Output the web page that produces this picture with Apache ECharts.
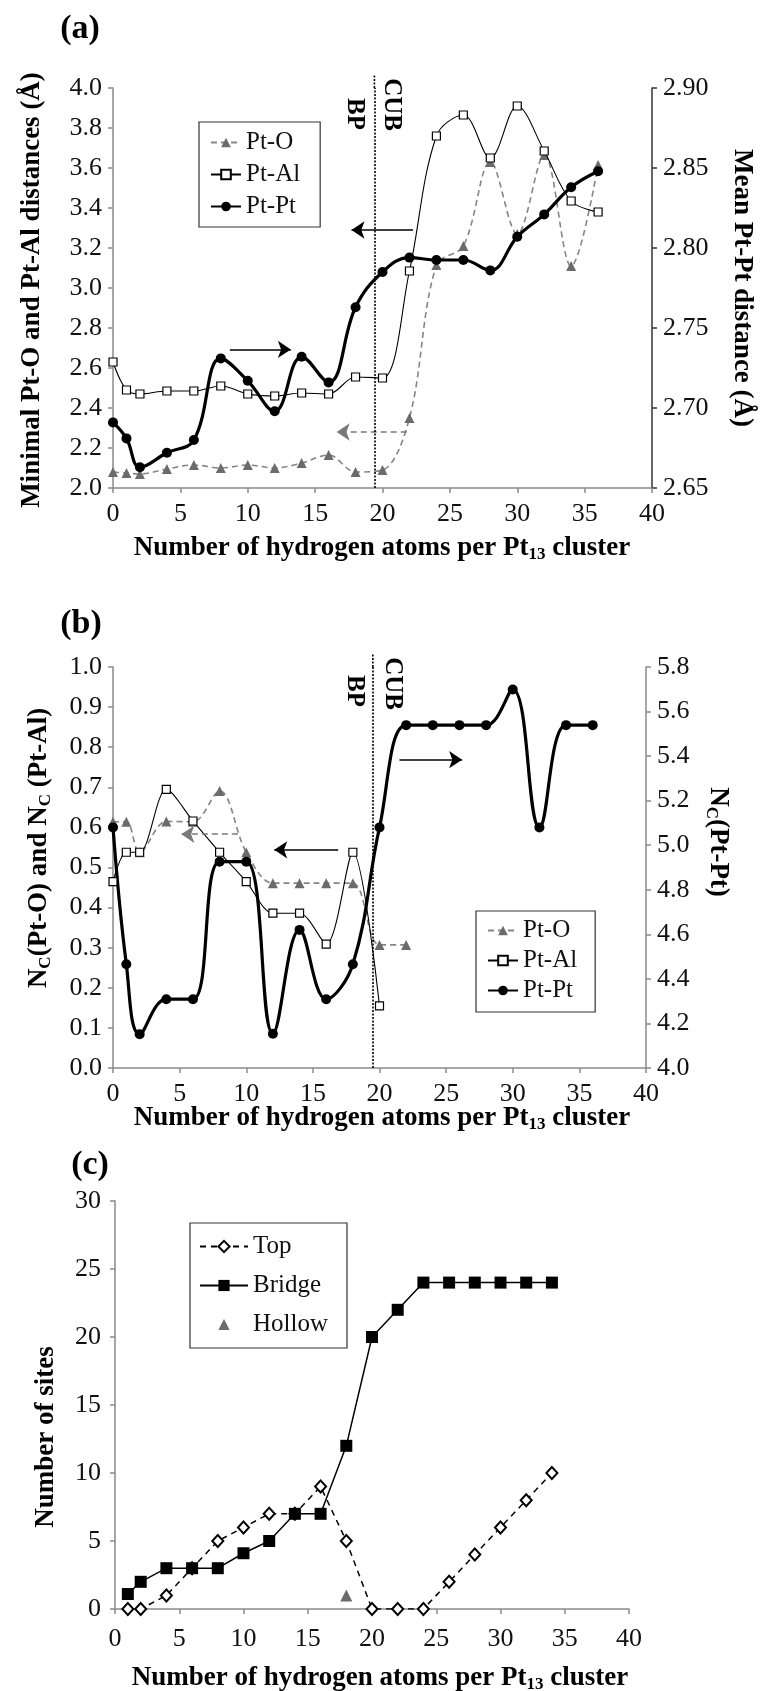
<!DOCTYPE html>
<html><head><meta charset="utf-8">
<script src="https://cdn.jsdelivr.net/npm/echarts@6/dist/echarts.min.js"></script>
<style>html,body{margin:0;padding:0;background:#fff}#c{width:760px;height:1691px}</style>
</head><body><div id="c"></div>
<script>
// ---------- data ----------
const xTicks = [0, 40, 5];
// panel (a)
const xA = [0,1,2,4,6,8,10,12,14,16,18,20,22,24,26,28,30,32,34,36];
const aPtO = [2.08,2.075,2.07,2.095,2.115,2.10,2.115,2.10,2.125,2.165,2.08,2.09,2.35,3.115,3.21,3.63,3.27,3.665,3.11,3.615];
const aPtAl = [2.63,2.49,2.47,2.485,2.485,2.51,2.47,2.46,2.475,2.47,2.555,2.55,3.085,3.76,3.865,3.65,3.91,3.685,3.435,3.38];
const aPtPt = [2.691,2.681,2.663,2.672,2.680,2.731,2.717,2.698,2.732,2.716,2.763,2.785,2.794,2.7925,2.7925,2.786,2.807,2.821,2.838,2.848];
// panel (b)
const xBO = [0,1,2,4,6,8,10,12,14,16,18,20,22];
const bPtO = [0.614,0.614,0.538,0.615,0.614,0.691,0.538,0.461,0.461,0.461,0.461,0.307,0.307];
const xBAl = [0,1,2,4,6,8,10,12,14,16,18,20];
const bPtAl = [0.465,0.538,0.538,0.695,0.616,0.538,0.465,0.386,0.386,0.309,0.538,0.155];
const xBPt = [0,1,2,4,6,8,10,12,14,16,18,20,22,24,26,28,30,32,34,36];
const bPtPt = [5.08,4.466,4.152,4.309,4.309,4.926,4.926,4.154,4.62,4.309,4.466,5.08,5.539,5.539,5.539,5.539,5.699,5.08,5.539,5.539];
// panel (c)
const xC = [1,2,4,6,8,10,12,14,16,18,20,22,24,26,28,30,32,34];
const cTop = [0,0,1,3,5,6,7,7,9,5,0,0,0,2,4,6,8,10];
const cBridge = [1.1,2,3,3,3,4.1,5,7,7,12,20,22,24,24,24,24,24,24];
const xHollow = [18];
const cHollow = [1];
// annotations (data coordinates): [x1, y1, x2, y2]
const aBlackArrows = [[8.67,2.693,13.2,2.693],[22.26,3.29,17.7,3.29]];
const aGrayArrow = [21.8,2.28,16.6,2.28];
const aDivider = [19.4,2.0,19.4,4.0];
const bBlackArrows = [[16.9,0.544,12.1,0.544],[21.5,0.769,26.2,0.769]];
const bGrayArrow = [9.37,0.583,5.13,0.583];
const bDivider = [19.5,0.0,19.5,1.0];

// ---------- helpers ----------
const F = 'Liberation Serif';
const GRAY = '#6b6b6b';
const AX = {color:'#8a8a8a', width:1.5};
const pairs = (xs, ys) => xs.map((x,i)=>[x, ys[i]]);
function xAxisCfg(gi, margin){ return {type:'value', gridIndex:gi, min:xTicks[0], max:xTicks[1], interval:xTicks[2],
  axisLine:{show:true, onZero:false, lineStyle:AX}, axisTick:{show:true, length:5, lineStyle:AX},
  axisLabel:{fontFamily:F, fontSize:26, color:'#111', margin:margin}, splitLine:{show:false}}; }
function yAxisCfg(gi, pos, min, max, interval, dec, margin, ax){ return {type:'value', gridIndex:gi, position:pos, min, max, interval,
  axisLine:{show:true, onZero:false, lineStyle:ax||AX}, axisTick:{show:true, length:5, lineStyle:ax||AX},
  axisLabel:{fontFamily:F, fontSize:26, color:'#111', margin:margin, formatter:v=>v.toFixed(dec)}, splitLine:{show:false}}; }
function arrow(a, style){ return [{coord:[a[0],a[1]], lineStyle:style, symbol:'none'},{coord:[a[2],a[3]], symbol:'arrow'}]; }
const DOT = {color:'#000', width:1.6, type:[2,1.5]};
function divider(a){ return [{coord:[a[0],a[1]], symbol:'none', lineStyle:DOT},{coord:[a[2],a[3]], symbol:'none'}]; }
const blackArrow = {color:'#000', width:1.6, type:'solid'};
const grayArrow = {color:'#7a7a7a', width:1.6, type:[6,4]};
const mlBase = {silent:true, animation:false, label:{show:false}, symbolSize:13, emphasis:{disabled:true}};

const rich = {
  n:{fontFamily:F, fontSize:27, fontWeight:'bold', lineHeight:31, fill:'#000'},
  s:{fontFamily:F, fontSize:17, fontWeight:'bold', lineHeight:17, verticalAlign:'bottom', fill:'#000'}
};
function txt(text, x, y, rot, size){
  return {type:'text', x, y, rotation:rot||0, silent:true,
    style:{text, rich, fontFamily:F, fontWeight:'bold', fontSize:size||27, fill:'#000', align:'center', verticalAlign:'middle'}};
}
function vlab(text, x, yEnd){
  return {type:'text', x, y:yEnd, rotation:-Math.PI/2, silent:true,
    style:{text, fontFamily:F, fontWeight:'bold', fontSize:25, fill:'#000', align:'right', verticalAlign:'middle'}};
}
const xTitle = '{n|Number of hydrogen atoms per Pt}{s|13}{n| cluster}';

const legendBase = {orient:'vertical', selectedMode:false, borderColor:'#333', borderWidth:1.2,
  textStyle:{fontFamily:F, fontSize:25, color:'#111'}};

const option = {
  animation:false,
  backgroundColor:'#fff',
  grid:[
    {left:113, top:88, width:539, height:400},
    {left:113, top:667, width:533, height:401},
    {left:115, top:1201, width:514, height:408}
  ],
  xAxis:[xAxisCfg(0,13), xAxisCfg(1,13), xAxisCfg(2,17)],
  yAxis:[
    yAxisCfg(0,'left',2.0,4.0,0.2,1,11),
    yAxisCfg(0,'right',2.65,2.90,0.05,2,11,{color:'#333', width:1.5}),
    yAxisCfg(1,'left',0,1.0,0.1,1,11),
    yAxisCfg(1,'right',4.0,5.8,0.2,1,11),
    yAxisCfg(2,'left',0,30,5,0,14)
  ],
  legend:[
    Object.assign({}, legendBase, {data:['Pt-O','Pt-Al','Pt-Pt'], left:199, top:122, padding:[8,20,8,11], itemGap:7, itemWidth:30, itemHeight:12}),
    Object.assign({}, legendBase, {data:['Pt-O','Pt-Al','Pt-Pt'], left:476, top:911, padding:[7,18,9,11], itemGap:5, itemWidth:30, itemHeight:12}),
    Object.assign({}, legendBase, {data:['Top','Bridge','Hollow'], left:190, top:1223, padding:[11,19,11,9], itemGap:14, itemWidth:48, itemHeight:14})
  ],
  series:[
    // (a)
    {name:'Pt-O', type:'line', xAxisIndex:0, yAxisIndex:0, data:pairs(xA,aPtO), smooth:0.35,
     symbol:'triangle', symbolSize:10, itemStyle:{color:GRAY}, lineStyle:{color:'#858585', width:1.6, type:[6,4]}, z:2,
     markLine:Object.assign({}, mlBase, {data:[arrow(aGrayArrow, grayArrow)], itemStyle:{color:'#7a7a7a'}})},
    {name:'Pt-Pt', type:'line', xAxisIndex:0, yAxisIndex:1, data:pairs(xA,aPtPt), smooth:0.4,
     symbol:'circle', symbolSize:10, itemStyle:{color:'#000'}, lineStyle:{color:'#000', width:3.2}, z:3},
    {name:'Pt-Al', type:'line', xAxisIndex:0, yAxisIndex:0, data:pairs(xA,aPtAl), smooth:0.35,
     symbol:'rect', symbolSize:8, itemStyle:{color:'#fff', borderColor:'#000', borderWidth:1.2}, lineStyle:{color:'#000', width:1.1}, z:4,
     markLine:Object.assign({}, mlBase, {itemStyle:{color:'#000'}, data:[divider(aDivider)].concat(aBlackArrows.map(a=>arrow(a, blackArrow)))})},
    // (b)
    {name:'Pt-O', type:'line', xAxisIndex:1, yAxisIndex:2, data:pairs(xBO,bPtO), smooth:0.35,
     symbol:'triangle', symbolSize:10, itemStyle:{color:GRAY}, lineStyle:{color:'#858585', width:1.6, type:[6,4]}, z:2,
     markLine:Object.assign({}, mlBase, {data:[arrow(bGrayArrow, grayArrow)], itemStyle:{color:'#7a7a7a'}})},
    {name:'Pt-Pt', type:'line', xAxisIndex:1, yAxisIndex:3, data:pairs(xBPt,bPtPt), smooth:0.4,
     symbol:'circle', symbolSize:10, itemStyle:{color:'#000'}, lineStyle:{color:'#000', width:3.2}, z:3},
    {name:'Pt-Al', type:'line', xAxisIndex:1, yAxisIndex:2, data:pairs(xBAl,bPtAl), smooth:0.3,
     symbol:'rect', symbolSize:8, itemStyle:{color:'#fff', borderColor:'#000', borderWidth:1.2}, lineStyle:{color:'#000', width:1.1}, z:4,
     markLine:Object.assign({}, mlBase, {itemStyle:{color:'#000'}, data:[divider(bDivider)].concat(bBlackArrows.map(a=>arrow(a, blackArrow)))})},
    // (c)
    {name:'Top', type:'line', xAxisIndex:2, yAxisIndex:4, data:pairs(xC,cTop),
     symbol:'diamond', symbolSize:[11,12], itemStyle:{color:'#fff', borderColor:'#000', borderWidth:2}, lineStyle:{color:'#000', width:1.5, type:[6,5]}, z:2},
    {name:'Bridge', type:'line', xAxisIndex:2, yAxisIndex:4, data:pairs(xC,cBridge),
     symbol:'rect', symbolSize:12, itemStyle:{color:'#000'}, lineStyle:{color:'#000', width:1.5}, z:3},
    {name:'Hollow', type:'line', xAxisIndex:2, yAxisIndex:4, data:pairs(xHollow,cHollow),
     symbol:'triangle', symbolSize:12, itemStyle:{color:GRAY}, lineStyle:{width:0, opacity:0}, z:4}
  ],
  graphic:[
    txt('(a)', 80, 29, 0, 34), txt('(b)', 81, 624, 0, 34), txt('(c)', 90, 1165, 0, 34),
    vlab('BP', 354, 130), vlab('CUB', 391, 131),
    vlab('BP', 354, 707), vlab('CUB', 392, 710),
    txt('{n|Minimal Pt-O and Pt-Al distances (Å)}', 32, 290, Math.PI/2),
    txt('{n|Mean Pt-Pt distance (Å)}', 742, 288, -Math.PI/2),
    txt(xTitle, 382, 548),
    txt('{n|N}{s|C}{n|(Pt-O) and N}{s|C}{n| (Pt-Al)}', 39, 848, Math.PI/2),
    txt('{n|N}{s|C}{n|(Pt-Pt)}', 718, 842, -Math.PI/2),
    txt(xTitle, 382, 1118),
    txt('{n|Number of sites}', 46, 1437, Math.PI/2),
    txt(xTitle, 380, 1678)
  ]
};
const chart = echarts.init(document.getElementById('c'));
chart.setOption(option);
// short extension of the BP/CUB divider above each plot, placed through the axis scales
const ext = [[0, aDivider], [1, bDivider]].map(([gi, d]) => {
  const p = chart.convertToPixel({gridIndex:gi}, [d[2], d[3]]);
  return {type:'line', silent:true, shape:{x1:p[0], y1:p[1], x2:p[0], y2:p[1]-14},
    style:{stroke:'#000', lineWidth:1.6, lineDash:[2,1.5]}};
});
chart.setOption({graphic: option.graphic.concat(ext)});
</script>
</body></html>
